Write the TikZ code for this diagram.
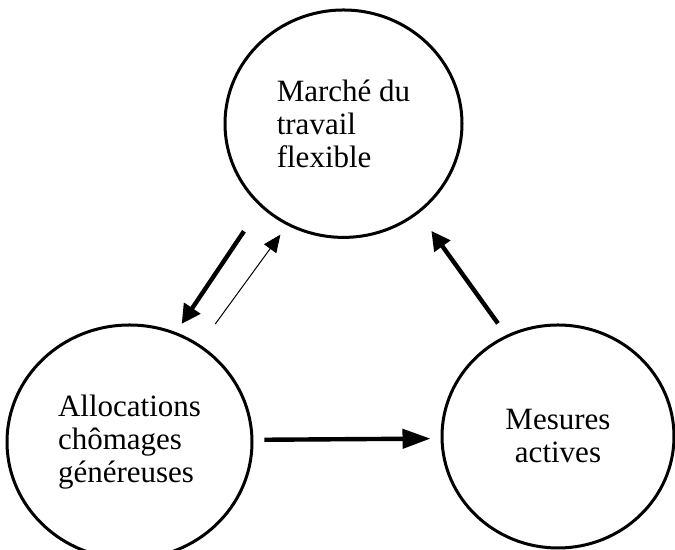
\documentclass[tikz,border=0pt]{standalone}
\usepackage{fontspec}
\setmainfont{Liberation Serif}
\usetikzlibrary{arrows.meta,shapes.geometric}

\begin{document}
\begin{tikzpicture}[x=0.5pt,y=0.5pt,font=\fontsize{15.5}{16.5}\selectfont,
    bubble/.style={draw,ellipse,line width=1.5pt,inner sep=0pt},
    thickarr/.style={line width=2.2pt,-{Triangle[length=9.5pt,width=9.5pt]}},
    longarr/.style={line width=2.2pt,-{Triangle[length=14pt,width=9.5pt]}},
    thinarr/.style={line width=0.5pt,-{Triangle[length=8.75pt,width=7.5pt]}}]
    \useasboundingbox (0,0) rectangle (675,550);
    % the three circles
    \node[bubble,minimum width=118.5pt,minimum height=113.7pt,align=left]
      (marche) at (343.5,426.3) {Marché du\\travail\\flexible};
    \node[bubble,minimum width=122.5pt,minimum height=117pt,align=left]
      (alloc) at (129.5,108) {Allocations\\chômages\\généreuses};
    \node[bubble,minimum width=116pt,minimum height=111.5pt,align=center]
      (mesures) at (558,113.5) {Mesures\\actives};
    % connectors
    \draw[thickarr,shorten <=14.75pt,shorten >=5pt] (marche.225.4) -- (alloc.67.4);
    \draw[thinarr,shorten <=12.7pt,shorten >=5.7pt] (alloc.54.6) -- (marche.241.2);
    \draw[longarr,shorten <=5.5pt,shorten >=5pt] (alloc.1.4) -- (mesures.181);
    \draw[thickarr,shorten <=7.15pt,shorten >=10.75pt] (mesures.117.5) -- (marche.310.4);
  \end{tikzpicture}
\end{document}
